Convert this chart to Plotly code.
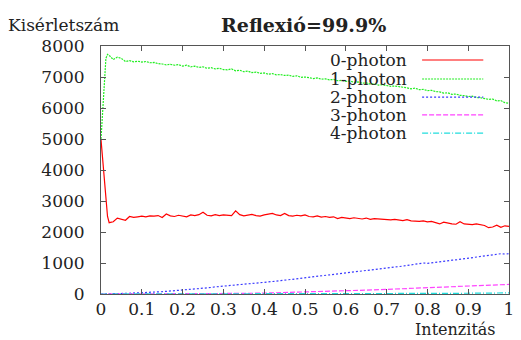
import plotly.graph_objects as go

# sample positions (Intenzitás)
x = [0, 0.004, 0.008, 0.012, 0.016, 0.02, 0.03, 0.04, 0.05, 0.06, 0.07, 0.08, 0.09,
     0.10, 0.11, 0.12, 0.13, 0.14, 0.15, 0.16, 0.17, 0.18, 0.19,
     0.20, 0.21, 0.22, 0.23, 0.24, 0.25, 0.26, 0.27, 0.28, 0.29,
     0.30, 0.31, 0.32, 0.33, 0.34, 0.35, 0.36, 0.37, 0.38, 0.39,
     0.40, 0.41, 0.42, 0.43, 0.44, 0.45, 0.46, 0.47, 0.48, 0.49,
     0.50, 0.51, 0.52, 0.53, 0.54, 0.55, 0.56, 0.57, 0.58, 0.59,
     0.60, 0.61, 0.62, 0.63, 0.64, 0.65, 0.66, 0.67, 0.68, 0.69,
     0.70, 0.71, 0.72, 0.73, 0.74, 0.75, 0.76, 0.77, 0.78, 0.79,
     0.80, 0.81, 0.82, 0.83, 0.84, 0.85, 0.86, 0.87, 0.88, 0.89,
     0.90, 0.91, 0.92, 0.93, 0.94, 0.95, 0.96, 0.97, 0.98, 0.99, 1.00]

photon0 = [4980, 4300, 3700, 2950, 2500, 2300, 2330, 2450, 2420, 2380, 2500, 2470, 2490,
           2510, 2490, 2520, 2510, 2530, 2470, 2580, 2520, 2500, 2540,
           2520, 2490, 2550, 2530, 2560, 2640, 2540, 2520, 2560, 2530,
           2550, 2540, 2530, 2680, 2560, 2520, 2540, 2570, 2530, 2510,
           2550, 2570, 2600, 2550, 2530, 2600, 2530, 2510, 2540, 2520,
           2550, 2500, 2490, 2520, 2480, 2500, 2470, 2490, 2430, 2470,
           2450, 2430, 2460, 2440, 2420, 2450, 2410, 2430, 2420, 2400,
           2410, 2390, 2410, 2380, 2370, 2400, 2360, 2350, 2340, 2360,
           2330, 2340, 2310, 2260, 2320, 2280, 2260, 2250, 2330, 2260,
           2250, 2240, 2260, 2230, 2210, 2140, 2160, 2220, 2150, 2200, 2180]

photon1 = [5000, 6000, 7000, 7600, 7730, 7700, 7560, 7640, 7600, 7500, 7530, 7490, 7510,
           7480, 7500, 7460, 7470, 7430, 7420, 7390, 7410, 7380, 7400,
           7350, 7380, 7330, 7350, 7310, 7330, 7280, 7300, 7260, 7280,
           7240, 7230, 7260, 7200, 7220, 7170, 7190, 7140, 7160, 7120,
           7130, 7090, 7110, 7070, 7080, 7050, 7060, 7020, 7040, 6990,
           7000, 6980, 6950, 6970, 6930, 6940, 6910, 6920, 6880, 6890,
           6860, 6870, 6830, 6840, 6800, 6810, 6770, 6780, 6740, 6750,
           6720, 6700, 6710, 6680, 6670, 6650, 6620, 6640, 6590, 6600,
           6560, 6570, 6530, 6520, 6480, 6490, 6440, 6450, 6410, 6400,
           6370, 6380, 6340, 6330, 6300, 6280, 6290, 6230, 6240, 6170, 6150]

photon2 = [0, 0, 2, 3, 4, 5, 8, 12, 15, 20, 25, 28, 35,
           40, 45, 55, 60, 70, 75, 85, 95, 100, 115,
           125, 135, 150, 160, 175, 185, 200, 210, 230, 245,
           260, 270, 285, 295, 305, 315, 330, 340, 350, 360,
           375, 390, 400, 415, 430, 445, 460, 470, 490, 505,
           520, 535, 550, 565, 580, 595, 610, 625, 645, 660,
           675, 690, 710, 720, 740, 755, 770, 790, 800, 820,
           840, 850, 870, 885, 900, 920, 940, 950, 970, 1000,
           990, 1010, 1030, 1040, 1060, 1075, 1090, 1100, 1120, 1140,
           1150, 1170, 1180, 1200, 1220, 1240, 1260, 1290, 1300, 1290, 1300]

x_low = [0, 0.05, 0.10, 0.15, 0.20, 0.25, 0.30, 0.35, 0.40, 0.45, 0.50,
         0.55, 0.60, 0.65, 0.70, 0.75, 0.80, 0.85, 0.90, 0.95, 1.00]
photon3 = [0, 0, 0, 2, 4, 8, 12, 20, 30, 45, 60,
           80, 100, 125, 150, 175, 200, 230, 260, 290, 310]
photon4 = [0, 0, 0, 0, 0, 0, 0, 1, 1, 2, 3,
           4, 6, 8, 10, 13, 16, 20, 25, 30, 35]

names = ["0-photon", "1-photon", "2-photon", "3-photon", "4-photon"]
colors = ["#ff0000", "#22ee22", "#3a3aff", "#ff44ff", "#22dddd"]
dashes = ["solid", "2px,1px", "2px,2px", "5px,2px", "6px,2px,1px,2px"]

FONT = "DejaVu Serif"

fig = go.Figure()
series = [(x, photon0), (x, photon1), (x, photon2), (x_low, photon3), (x_low, photon4)]
for (xs, ys), n, c, d in zip(series, names, colors, dashes):
    fig.add_trace(go.Scatter(x=xs, y=ys, mode="lines", name=n,
                             line=dict(color=c, width=1.2, dash=d),
                             showlegend=False))

# legend drawn gnuplot-style: text then line sample
row_y = [0.9435, 0.867, 0.794, 0.722, 0.649]
for n, c, d, yy in zip(names, colors, dashes, row_y):
    fig.add_annotation(x=0.755, y=yy, xref="paper", yref="paper", text=n,
                       showarrow=False, xanchor="right", yanchor="middle",
                       font=dict(family=FONT, size=17, color="#222"))
    fig.add_shape(type="line", xref="paper", yref="paper",
                  x0=0.787, x1=0.937, y0=yy, y1=yy,
                  line=dict(color=c, width=1.2, dash=d))

fig.add_annotation(x=-0.232, y=1.085, xref="paper", yref="paper", text="Kisérletszám",
                   showarrow=False, xanchor="left", yanchor="middle",
                   font=dict(family=FONT, size=17, color="#222"))
fig.add_annotation(x=0.497, y=1.085, xref="paper", yref="paper", text="<b>Reflexió=99.9%</b>",
                   showarrow=False, xanchor="center", yanchor="middle",
                   font=dict(family=FONT, size=19, color="#222"))
fig.add_annotation(x=0.87, y=-0.145, xref="paper", yref="paper", text="Intenzitás",
                   showarrow=False, xanchor="center", yanchor="middle",
                   font=dict(family=FONT, size=16, color="#222"))

xt = [0, 0.1, 0.2, 0.3, 0.4, 0.5, 0.6, 0.7, 0.8, 0.9, 1]
xt_text = ["0", "0.1", "0.2", "0.3", "0.4", "0.5", "0.6", "0.7", "0.8", "0.9", "1"]
yt = [0, 1000, 2000, 3000, 4000, 5000, 6000, 7000, 8000]

axis_common = dict(showline=True, linecolor="#555", linewidth=1, mirror="ticks",
                   ticks="inside", ticklen=5, tickcolor="#555", showgrid=False,
                   zeroline=False, tickfont=dict(family=FONT, size=17, color="#222"))

fig.update_xaxes(range=[0, 1], tickvals=xt, ticktext=xt_text, **axis_common)
fig.update_yaxes(range=[0, 8000], tickvals=yt, ticklabelstandoff=12, **axis_common)

fig.update_layout(width=521, height=340, margin=dict(l=101, r=7, t=46, b=46),
                  paper_bgcolor="white", plot_bgcolor="white",
                  font=dict(family=FONT, color="#222"))

fig.write_html("out.html")
